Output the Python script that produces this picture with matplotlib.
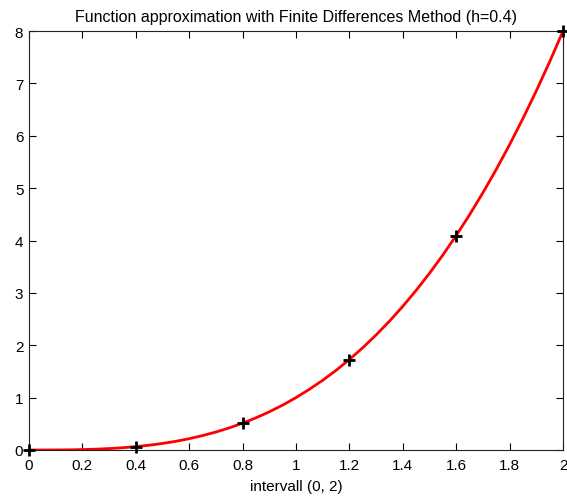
import matplotlib
matplotlib.use("Agg")
import matplotlib.pyplot as plt

plt.rcParams['font.family'] = ['Liberation Sans', 'DejaVu Sans']

# smooth approximation curve
curve_x = [0.0, 0.05, 0.1, 0.15, 0.2, 0.25, 0.3, 0.35, 0.4, 0.45, 0.5, 0.55, 0.6, 0.65,
           0.7, 0.75, 0.8, 0.85, 0.9, 0.95, 1.0, 1.05, 1.1, 1.15, 1.2, 1.25, 1.3, 1.35,
           1.4, 1.45, 1.5, 1.55, 1.6, 1.65, 1.7, 1.75, 1.8, 1.85, 1.9, 1.95, 2.0]
curve_y = [0.0, 0.0, 0.001, 0.003, 0.008, 0.016, 0.027, 0.043, 0.064, 0.091, 0.125,
           0.166, 0.216, 0.275, 0.343, 0.422, 0.512, 0.614, 0.729, 0.857, 1.0,
           1.158, 1.331, 1.521, 1.728, 1.953, 2.197, 2.460, 2.744, 3.049, 3.375,
           3.724, 4.096, 4.492, 4.913, 5.359, 5.832, 6.332, 6.859, 7.415, 8.0]

# finite difference nodes (h=0.4)
node_x = [0.0, 0.4, 0.8, 1.2, 1.6, 2.0]
node_y = [0.0, 0.064, 0.512, 1.728, 4.096, 8.0]

x_ticks = [0, 0.2, 0.4, 0.6, 0.8, 1, 1.2, 1.4, 1.6, 1.8, 2]
x_labels = ["0", "0.2", "0.4", "0.6", "0.8", "1", "1.2", "1.4", "1.6", "1.8", "2"]
y_ticks = [0, 1, 2, 3, 4, 5, 6, 7, 8]

fig = plt.figure(figsize=(5.67, 5.02), dpi=100)
ax = fig.add_axes([0.051, 0.1016, 0.942, 0.8345])

ax.plot(curve_x, curve_y, color="#ff0000", lw=2, zorder=2)
ax.plot(node_x, node_y, "k+", ms=8, mew=2, zorder=3, clip_on=False)

ax.set_xlim(0, 2)
ax.set_ylim(0, 8)
ax.set_xticks(x_ticks)
ax.set_xticklabels(x_labels)
ax.set_yticks(y_ticks)
ax.tick_params(direction="in", top=True, right=True, labelsize=11, length=5, width=0.8, pad=4)
ax.tick_params(axis="x", pad=6)
for s in ax.spines.values():
    s.set_linewidth(0.8)
    s.set_color("#222222")

ax.set_xlabel("intervall (0, 2)", fontsize=11, labelpad=5)
ax.set_title("Function approximation with Finite Differences Method (h=0.4)", fontsize=11.5, pad=7)

fig.savefig("out.png", dpi=100)
